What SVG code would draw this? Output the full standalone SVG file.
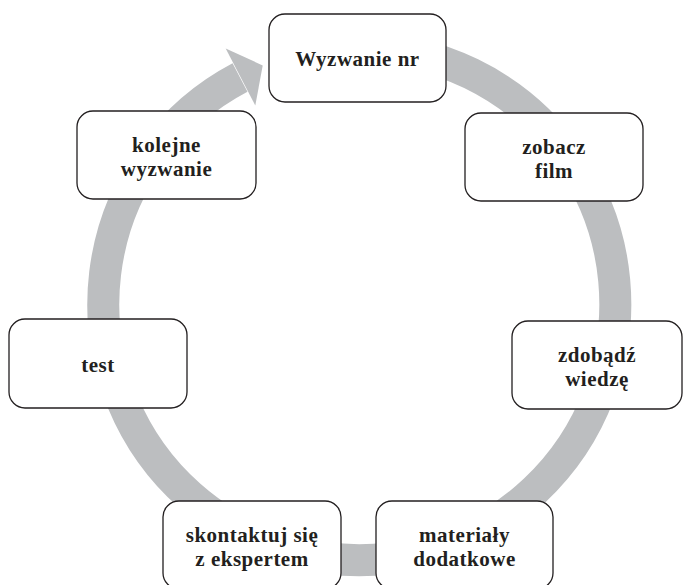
<svg xmlns="http://www.w3.org/2000/svg" width="683" height="585" viewBox="0 0 683 585">
  <defs>
    <style>
      .ring { fill: none; stroke: #bcbec0; stroke-width: 32; stroke-linecap: butt; }
      .head { fill: #bcbec0; }
      .box { fill: #ffffff; stroke: #231f20; stroke-width: 1.3; }
      .lbl { font-family: "Liberation Serif", "Times New Roman", serif; font-weight: bold; font-size: 21px; fill: #231f20; text-anchor: middle; letter-spacing: 0.5px; }
    </style>
  </defs>
  <rect width="683" height="585" fill="#ffffff"/>

  <!-- cycle ring: clockwise arc ending in an arrowhead pointing at the first step -->
  <g id="connectors">
    <path class="ring" d="M 359 48 A 256 256 0 1 1 240 77.5"/>
    <polygon class="head" points="225.7,48.6 262.7,65.4 255.3,105.4"/>
  </g>

  <g id="node-wyzwanie">
    <rect class="box" x="269" y="14" width="177" height="88" rx="16"/>
    <text class="lbl" x="357.5" y="66">Wyzwanie nr</text>
  </g>

  <g id="node-film">
    <rect class="box" x="465" y="113" width="178" height="88" rx="16"/>
    <text class="lbl" x="554" y="153.5">zobacz</text>
    <text class="lbl" x="554" y="177.5">film</text>
  </g>

  <g id="node-wiedza">
    <rect class="box" x="512" y="321" width="170" height="88" rx="16"/>
    <text class="lbl" x="597" y="361.5">zdobądź</text>
    <text class="lbl" x="597" y="385.5">wiedzę</text>
  </g>

  <g id="node-materialy">
    <rect class="box" x="376" y="501" width="177" height="88" rx="16"/>
    <text class="lbl" x="464.5" y="541.5">materiały</text>
    <text class="lbl" x="464.5" y="565.5">dodatkowe</text>
  </g>

  <g id="node-ekspert">
    <rect class="box" x="163" y="501" width="178" height="88" rx="16"/>
    <text class="lbl" x="252" y="541.5">skontaktuj się</text>
    <text class="lbl" x="252" y="565.5">z ekspertem</text>
  </g>

  <g id="node-test">
    <rect class="box" x="9" y="319" width="178" height="89" rx="16"/>
    <text class="lbl" x="98" y="371.5">test</text>
  </g>

  <g id="node-kolejne">
    <rect class="box" x="77" y="111" width="179" height="88" rx="16"/>
    <text class="lbl" x="166.5" y="151.5">kolejne</text>
    <text class="lbl" x="166.5" y="175.5">wyzwanie</text>
  </g>
</svg>
